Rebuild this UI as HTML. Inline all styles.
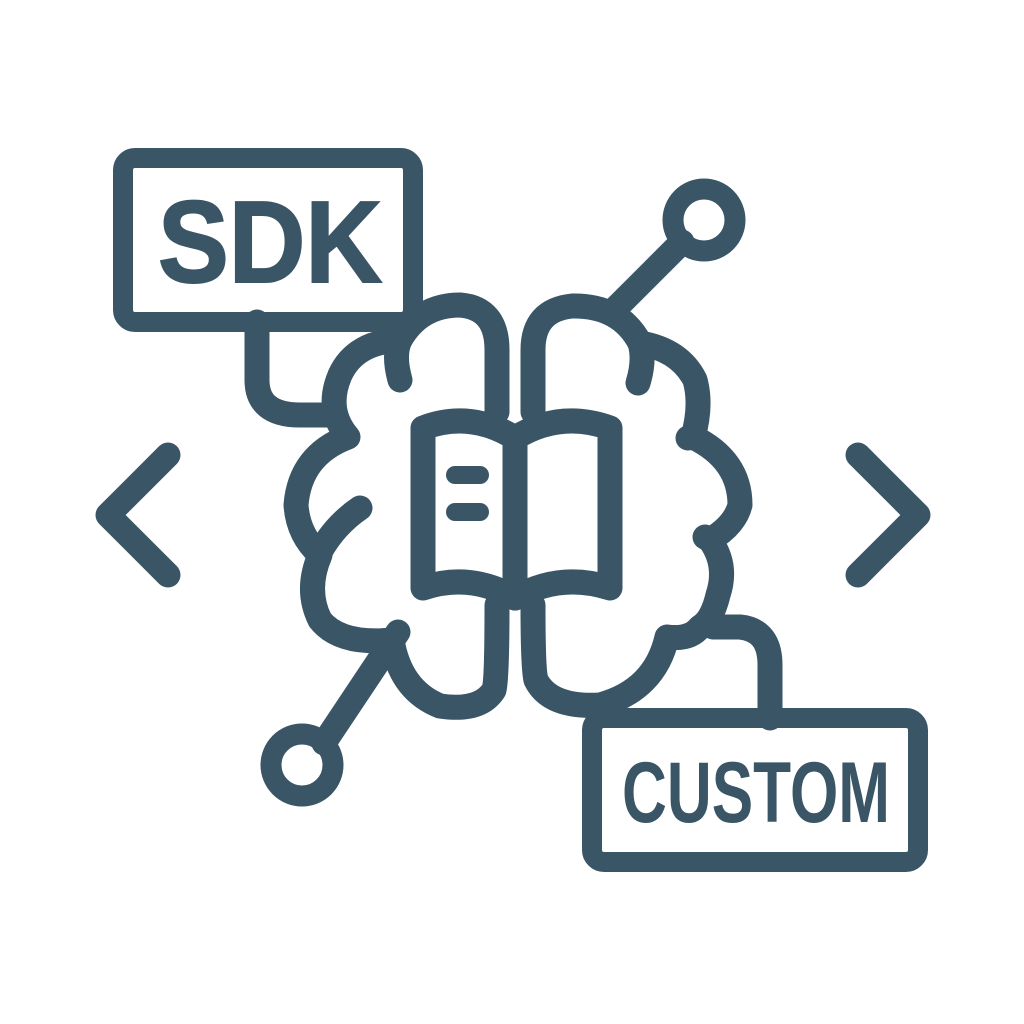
<!DOCTYPE html>
<html><head><meta charset="utf-8"><style>html,body{margin:0;padding:0;background:#fff;width:1024px;height:1024px;overflow:hidden}</style></head>
<body>
<svg width="1024" height="1024" viewBox="0 0 1024 1024" xmlns="http://www.w3.org/2000/svg">
<g fill="none" stroke="#3a5566" stroke-width="25" stroke-linecap="round" stroke-linejoin="round">
<rect x="123" y="158" width="290" height="164" rx="12" stroke-width="20"/>
<rect x="592" y="718" width="326" height="144" rx="12" stroke-width="20"/>
<polyline points="168,455 108,515 168,575"/>
<polyline points="858,455 918,515 858,575"/>
<circle cx="704" cy="220" r="31" stroke-width="21"/>
<line x1="682" y1="242" x2="612" y2="312"/>
<circle cx="302" cy="765" r="31" stroke-width="21"/>
<line x1="324" y1="743" x2="398" y2="632"/>
<path d="M257,322 V380 Q257,415 300,415 H335"/>
<path d="M713,627 H740 Q770,630 770,665 V718"/>
<path d="M497,412 V350 Q497,308 460,305 Q420,305 400,340 Q355,342 340,375 Q325,410 348,437 Q300,455 296,505 Q298,535 320,555 Q305,590 320,620 Q340,645 392,640 Q400,690 440,706 Q480,712 494,690 Q497,680 497,605"/>
<path d="M400,340 Q393,355 400,380"/>
<path d="M360,508 Q335,525 320,552"/>
<path d="M533,412 V350 Q533,310 572,306 Q620,305 640,343 Q680,350 695,380 Q702,405 693,437 Q740,460 740,505 Q735,525 710,540 Q728,565 718,595 Q712,620 700,627 Q690,640 667,637 Q655,690 600,705 Q550,708 536,680 Q533,670 533,605"/>
<path d="M640,343 Q645,360 638,383"/>
<path d="M693,437 L688,438"/>
<path d="M710,540 L705,537"/>
<path d="M423,428 Q470,410 515,438 Q560,410 610,428 L610,588 Q560,572 515,598 Q470,572 423,588 Z"/>
<line x1="515" y1="438" x2="515" y2="598"/>
<line x1="455" y1="475" x2="480" y2="475" stroke-width="18"/>
<line x1="455" y1="512" x2="480" y2="512" stroke-width="18"/>
</g>
<text x="158" y="282" font-family="Liberation Sans, sans-serif" font-weight="bold" font-size="116" fill="#3a5566" stroke="#3a5566" stroke-width="2" textLength="224" lengthAdjust="spacingAndGlyphs">SDK</text>
<text x="622" y="822" font-family="Liberation Sans, sans-serif" font-weight="bold" font-size="86" fill="#3a5566" textLength="268" lengthAdjust="spacingAndGlyphs">CUSTOM</text>
</svg>
</body></html>
